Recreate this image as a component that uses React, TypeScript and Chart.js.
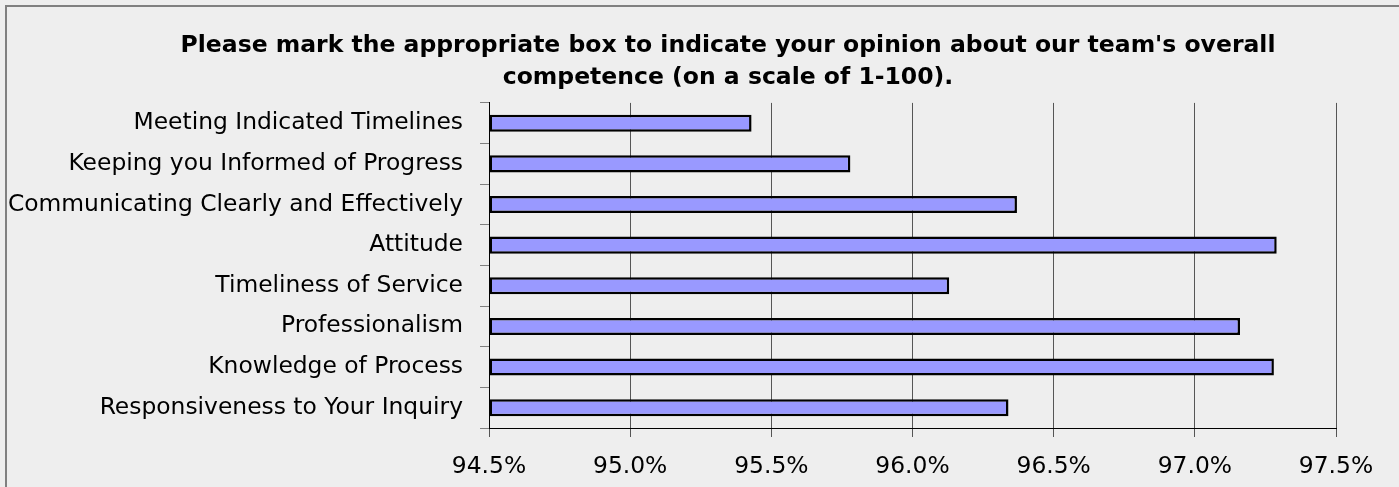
import React, { useEffect, useRef } from "react";
import { Chart, registerables } from "chart.js";

Chart.register(...registerables);

const categories = [
  "Meeting Indicated Timelines",
  "Keeping you Informed of Progress",
  "Communicating Clearly and Effectively",
  "Attitude",
  "Timeliness of Service",
  "Professionalism",
  "Knowledge of Process",
  "Responsiveness to Your Inquiry",
];

const scores = [95.43, 95.78, 96.37, 97.29, 96.13, 97.16, 97.28, 96.34];

const titleLines = [
  "Please mark the appropriate box to indicate your opinion about our team's overall",
  "competence (on a scale of 1-100).",
];

const X_MIN = 94.5;
const X_MAX = 97.5;
const X_STEP = 0.5;

const FONT = "'DejaVu Sans', Verdana, sans-serif";

const frame = {
  id: "frame",
  afterLayout(chart: any) {
    const tb = chart.titleBlock;
    if (tb) {
      tb.left = 120;
      tb.right = chart.chartArea.right;
      tb.width = tb.right - tb.left;
    }
  },
  beforeDraw(chart: any) {
    const { ctx, width, height } = chart;
    ctx.save();
    ctx.fillStyle = "#eeeeee";
    ctx.fillRect(0, 0, width, height);
    ctx.strokeStyle = "#808080";
    ctx.lineWidth = 2;
    ctx.beginPath();
    ctx.moveTo(6, height + 5);
    ctx.lineTo(6, 6);
    ctx.lineTo(width + 5, 6);
    ctx.stroke();
    ctx.restore();
  },
};

export default function App() {
  const ref = useRef<HTMLCanvasElement>(null);

  useEffect(() => {
    document.body.style.margin = "0";
    const canvas = ref.current;
    if (!canvas) return;
    const chart = new Chart(canvas, {
      type: "bar",
      data: {
        labels: categories,
        datasets: [
          {
            data: scores,
            base: X_MIN,
            backgroundColor: "#9999ff",
            borderColor: "#000000",
            borderWidth: 2.5,
            borderSkipped: false,
            categoryPercentage: 1,
            barPercentage: 0.42,
          } as any,
        ],
      },
      options: {
        indexAxis: "y",
        responsive: false,
        animation: false,
        layout: { padding: { left: 0, right: 63, top: 0, bottom: 0 } },
        plugins: {
          legend: { display: false },
          tooltip: { enabled: false },
          title: {
            display: true,
            text: titleLines,
            color: "#000000",
            font: { family: FONT, size: 23.5, weight: "bold", lineHeight: 1.36 },
            padding: { top: 30, bottom: 9 },
          },
        },
        scales: {
          x: {
            type: "linear",
            min: X_MIN,
            max: X_MAX,
            ticks: {
              stepSize: X_STEP,
              color: "#000000",
              padding: 16,
              font: { family: FONT, size: 23.4 },
              callback: (v: any) => Number(v).toFixed(1) + "%",
            },
            grid: {
              color: "#555555",
              lineWidth: 1,
              tickLength: 9,
              drawOnChartArea: true,
            },
            border: { display: true, color: "#000000", width: 1 },
            afterFit: (s: any) => {
              s.paddingLeft = 0;
              s.paddingRight = 0;
              s.height = 59;
            },
          },
          y: {
            type: "category",
            ticks: {
              color: "#000000",
              padding: 17,
              font: { family: FONT, size: 23.4 },
            },
            grid: {
              display: true,
              offset: true,
              drawOnChartArea: false,
              color: "#808080",
              tickLength: 9,
            },
            border: { display: true, color: "#000000", width: 1 },
            afterFit: (s: any) => {
              s.width = 489;
              s.paddingTop = 0;
              s.paddingBottom = 0;
            },
          },
        },
      },
      plugins: [frame],
    });
    return () => chart.destroy();
  }, []);

  return (
    <div style={{ width: 1399, height: 487, overflow: "hidden" }}>
      <canvas ref={ref} width={1399} height={487} style={{ display: "block" }} />
    </div>
  );
}
